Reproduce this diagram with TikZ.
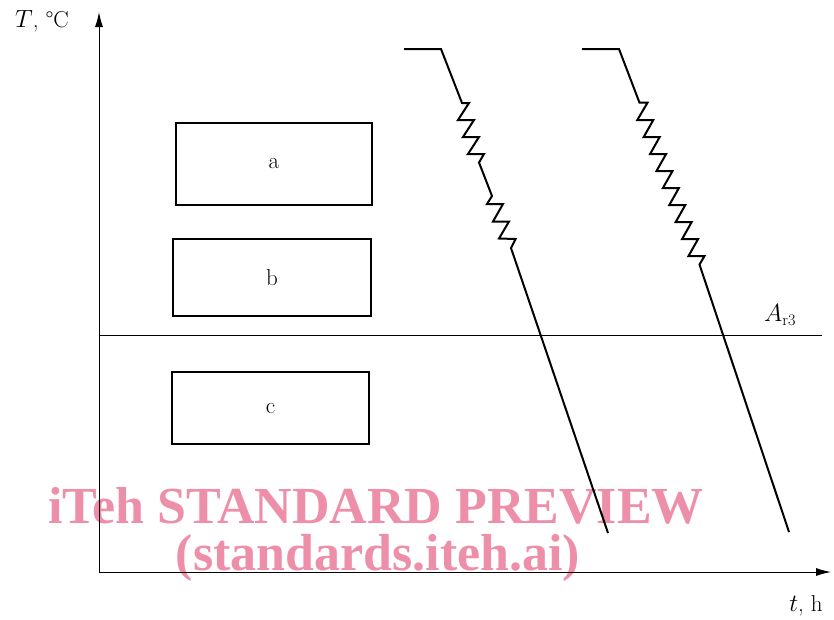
\documentclass[tikz,border=0pt]{standalone}
\usepackage{fontspec}
\usepackage{tikz}
\usetikzlibrary{arrows.meta}
\newfontfamily\wmfont{Liberation Serif}
\definecolor{wmpink}{RGB}{238,143,170}

\begin{document}
\begin{tikzpicture}[x=1pt,y=-1pt,font=\fontsize{23}{27}\selectfont,
  phasebox/.style={draw,line width=1.4pt,inner sep=0pt},
  axis/.style={line width=1pt,-{Latex[length=15pt,width=8pt]}},
  cool/.style={line width=2pt}]
\useasboundingbox (0,0) rectangle (834,619);
% watermark
\node (wm1) at (376,506) {\wmfont\bfseries\fontsize{52}{60}\selectfont\color{wmpink}iTeh STANDARD PREVIEW};
\node (wm2) at (378,558) {\wmfont\bfseries\fontsize{52}{60}\selectfont\color{wmpink}(standards.iteh.ai)};
% axes
\coordinate (O) at (99,572);
\coordinate (Tmax) at (99,12);
\coordinate (tmax) at (831,572);
\draw[axis] (O) -- (Tmax);
\draw[axis] (O) -- (tmax);
\node (Tlab) at (42,21) {$T$, \textdegree C};
\node (tlab) at (806,606) {$t$, h};
% Ar3 line
\coordinate (ar3l) at (99,335);
\coordinate (ar3r) at (822,335);
\draw[line width=1pt] (ar3l) -- (ar3r);
\node (ar3) at (780,315) {$A_{\mathrm{r3}}$};
% boxes
\node[phasebox,minimum width=196pt,minimum height=82pt] (a) at (274,164) {a};
\node[phasebox,minimum width=198pt,minimum height=77pt] (b) at (272,277.5) {b};
\node[phasebox,minimum width=197pt,minimum height=72pt] (c) at (270.5,408) {c};
% cooling curves
\draw[cool] (404,49)--(441,49)--(462,103)--(469,103)--(458,120)--(474,120)--(463,137)--(479,137)
  --(468,154)--(484,154)--(479,162.5)--(492,196)--(487,204)--(503,204)--(493,221.5)--(509,221.5)
  --(499,238.5)--(515.5,239)--(511,248)--(608,533);
\draw[cool] (582,49)--(619,49)--(639.5,102.7)--(647.5,102.7)--(637.3,120)--(653.3,120)--(643.7,137)
  --(659.7,137)--(650.1,154)--(666.1,154)--(656.5,171)--(672.5,171)--(662.9,188)--(678.9,188)
  --(669.3,205)--(685.3,205)--(675.7,222)--(691.7,222)--(682.1,239)--(698.1,239)--(688.5,256)
  --(704.5,256)--(699.5,264.5)--(789,532);
\end{tikzpicture}
\end{document}
